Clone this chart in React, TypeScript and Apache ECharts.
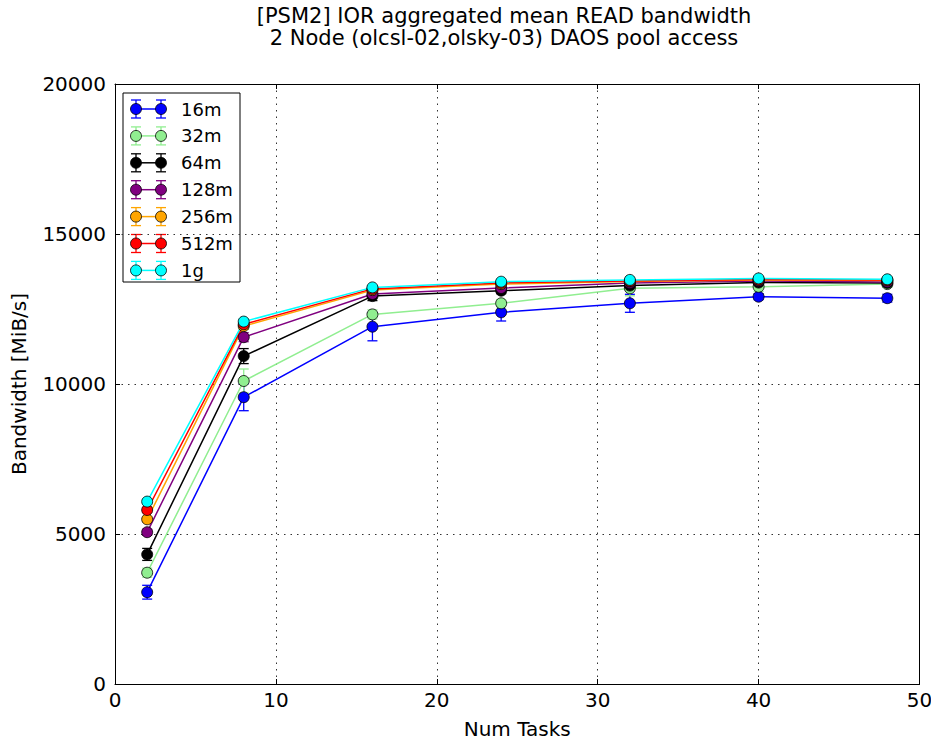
import React, { useEffect, useRef } from "react";
import * as echarts from "echarts";

const tasks = [2, 8, 16, 24, 32, 40, 48];
const sizeNames = ["16m", "32m", "64m", "128m", "256m", "512m", "1g"];
const sizeColors = ["#0000ff", "#90ee90", "#000000", "#800080", "#ffa500", "#ff0000", "#00ffff"];

const bw16m = [3060, 9560, 11910, 12390, 12690, 12910, 12860];
const bw32m = [3710, 10100, 12320, 12690, 13190, 13240, 13330];
const bw64m = [4320, 10930, 12930, 13110, 13280, 13380, 13370];
const bw128m = [5060, 11560, 13000, 13200, 13370, 13430, 13400];
const bw256m = [5490, 11930, 13130, 13330, 13420, 13470, 13450];
const bw512m = [5800, 11990, 13170, 13370, 13430, 13480, 13470];
const bw1g = [6080, 12080, 13220, 13410, 13470, 13520, 13490];

const err16m = [230, 450, 470, 290, 300, 100, 130];
const err32m = [150, 400, 150, 120, 250, 150, 100];
const err64m = [200, 250, 150, 100, 100, 80, 80];
const err128m = [100, 150, 100, 80, 80, 60, 60];
const err256m = [80, 100, 80, 60, 60, 50, 50];
const err512m = [80, 100, 80, 60, 50, 50, 50];
const err1g = [80, 80, 60, 50, 50, 50, 50];

const bwSeries = [bw16m, bw32m, bw64m, bw128m, bw256m, bw512m, bw1g];
const errSeries = [err16m, err32m, err64m, err128m, err256m, err512m, err1g];

const xTicks = { min: 0, max: 50, interval: 10 };
const yTicks = { min: 0, max: 20000, interval: 5000 };

const titleLines = [
  "[PSM2] IOR aggregated mean READ bandwidth",
  "2 Node (olcsl-02,olsky-03) DAOS pool access",
];
const xName = "Num Tasks";
const yName = "Bandwidth [MiB/s]";

const FONT = "'DejaVu Sans', sans-serif";

export default function App() {
  const ref = useRef<HTMLDivElement>(null);

  useEffect(() => {
    if (!ref.current) return;
    const chart = echarts.init(ref.current, null, { renderer: "svg" });

    const series: any[] = [];
    sizeNames.forEach((name, i) => {
      const color = sizeColors[i];
      const vals = bwSeries[i];
      const errs = errSeries[i];
      series.push({
        type: "custom",
        name: name + " err",
        xAxisIndex: 0,
        yAxisIndex: 0,
        z: 2,
        silent: true,
        data: tasks.map((t, j) => [t, vals[j], errs[j]]),
        renderItem: (params: any, api: any) => {
          const x = api.value(0);
          const y = api.value(1);
          const e = api.value(2);
          const top = api.coord([x, y + e]);
          const bot = api.coord([x, y - e]);
          const cap = 5;
          const st = { stroke: color, lineWidth: 1.3 };
          return {
            type: "group",
            children: [
              { type: "line", shape: { x1: top[0], y1: top[1], x2: bot[0], y2: bot[1] }, style: st },
              { type: "line", shape: { x1: top[0] - cap, y1: top[1], x2: top[0] + cap, y2: top[1] }, style: st },
              { type: "line", shape: { x1: bot[0] - cap, y1: bot[1], x2: bot[0] + cap, y2: bot[1] }, style: st },
            ],
          };
        },
      });
      series.push({
        type: "line",
        name,
        xAxisIndex: 0,
        yAxisIndex: 0,
        z: 2,
        symbol: "circle",
        symbolSize: 11,
        itemStyle: { color, borderColor: "#000", borderWidth: 0.8 },
        lineStyle: { color, width: 1.5 },
        emphasis: { disabled: true },
        data: tasks.map((t, j) => [t, vals[j]]),
      });
    });

    const legendX = 123;
    const legendY = 93;
    const rowH = 26.9;
    const legendChildren: any[] = [
      {
        type: "rect",
        shape: { x: legendX, y: legendY, width: 117, height: 189 },
        style: { fill: "#fff", stroke: "#000", lineWidth: 1 },
      },
    ];
    sizeNames.forEach((name, i) => {
      const cy = legendY + 16 + i * rowH;
      const color = sizeColors[i];
      const st = { stroke: color, lineWidth: 1.3 };
      legendChildren.push({ type: "line", shape: { x1: 136, y1: cy, x2: 161, y2: cy }, style: { stroke: color, lineWidth: 1.5 } });
      [136, 161].forEach((mx) => {
        legendChildren.push({ type: "line", shape: { x1: mx, y1: cy - 9, x2: mx, y2: cy + 9 }, style: st });
        legendChildren.push({ type: "line", shape: { x1: mx - 5, y1: cy - 9, x2: mx + 5, y2: cy - 9 }, style: st });
        legendChildren.push({ type: "line", shape: { x1: mx - 5, y1: cy + 9, x2: mx + 5, y2: cy + 9 }, style: st });
        legendChildren.push({ type: "circle", shape: { cx: mx, cy, r: 5.5 }, style: { fill: color, stroke: "#000", lineWidth: 0.8 } });
      });
      legendChildren.push({
        type: "text",
        x: 181,
        y: cy,
        style: { text: name, fontSize: 18, fontFamily: FONT, fill: "#000", verticalAlign: "middle", align: "left" },
      });
    });

    const axisCommon = {
      type: "value",
      axisLine: { show: true, onZero: false, lineStyle: { color: "#000", width: 1 } },
      axisTick: { show: true, inside: true, length: 5, lineStyle: { color: "#000", width: 1 } },
    };

    const gridLine = { show: true, lineStyle: { color: "#333", type: [1.5, 5], width: 1 } };

    const option: any = {
      animation: false,
      backgroundColor: "#fff",
      textStyle: { fontFamily: FONT },
      grid: { left: 115, top: 84, right: 11.5, bottom: 56, show: false, containLabel: false, outerBoundsMode: "none" },
      xAxis: [
        {
          ...axisCommon,
          ...xTicks,
          position: "bottom",
          axisLabel: { color: "#000", fontSize: 20, fontFamily: FONT, margin: 6, formatter: (v: number) => String(v) },
          splitLine: gridLine,
          name: xName,
          nameLocation: "middle",
          nameGap: 35,
          nameTextStyle: { color: "#000", fontSize: 20, fontFamily: FONT },
        },
        {
          ...axisCommon,
          ...xTicks,
          position: "top",
          axisLabel: { show: false },
          splitLine: { show: false },
        },
      ],
      yAxis: [
        {
          ...axisCommon,
          ...yTicks,
          position: "left",
          axisLabel: { color: "#000", fontSize: 20, fontFamily: FONT, margin: 9, formatter: (v: number) => String(v) },
          splitLine: gridLine,
          name: yName,
          nameLocation: "middle",
          nameGap: 86,
          nameTextStyle: { color: "#000", fontSize: 20, fontFamily: FONT },
        },
        {
          ...axisCommon,
          ...yTicks,
          position: "right",
          axisLabel: { show: false },
          splitLine: { show: false },
        },
      ],
      graphic: [
        {
          type: "group",
          z: 100,
          children: [
            ...titleLines.map((t, i) => ({
              type: "text",
              x: 504,
              y: 16 + i * 22,
              style: { text: t, fontSize: 21, fontFamily: FONT, fill: "#000", align: "center", verticalAlign: "middle" },
            })),
            ...legendChildren,
          ],
        },
      ],
      series,
    };

    chart.setOption(option);
    return () => chart.dispose();
  }, []);

  return (
    <div
      ref={ref}
      style={{ position: "fixed", left: 0, top: 0, width: 931, height: 740, background: "#fff" }}
    />
  );
}
